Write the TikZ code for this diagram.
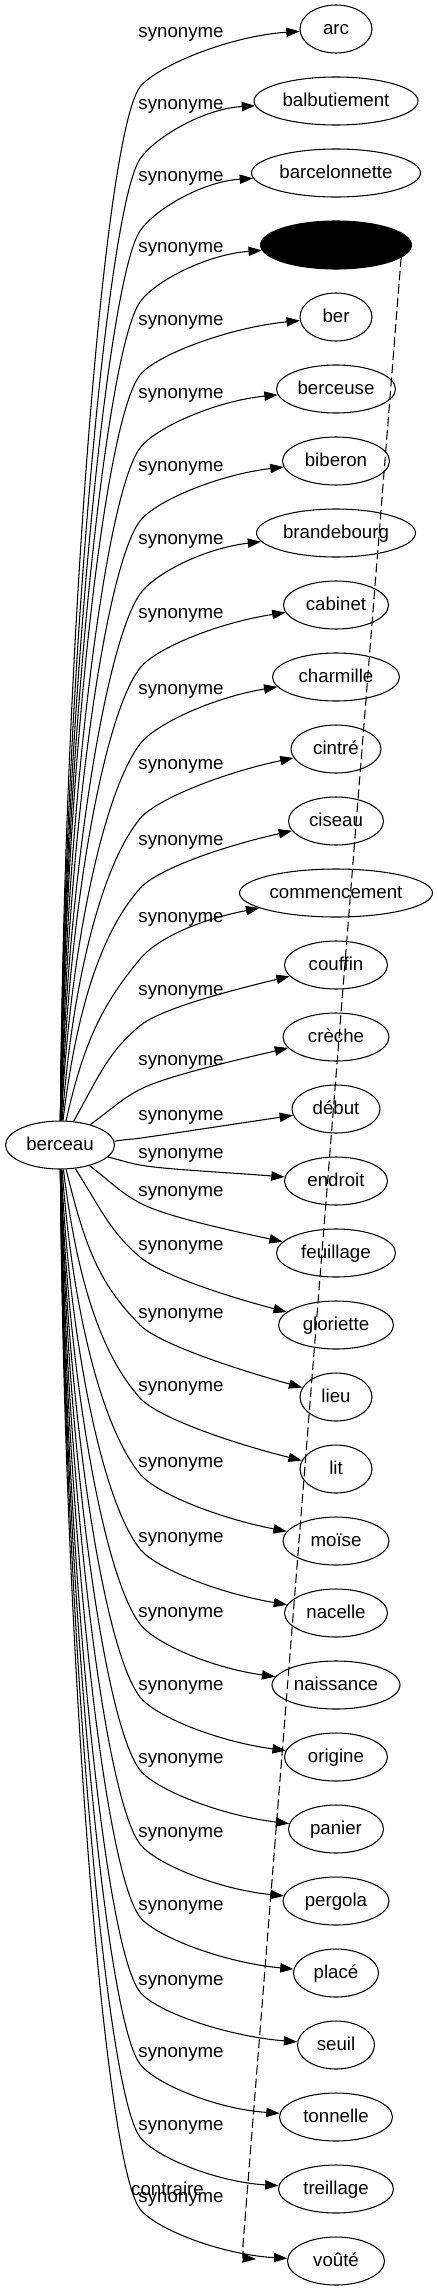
\documentclass[tikz,border=0pt]{standalone}
\usepackage{fontspec}
\setmainfont{Liberation Sans}
\usetikzlibrary{arrows.meta,shapes.geometric}
\tikzset{
  tnode/.style={draw, ellipse, line width=0.8pt, inner sep=0pt, minimum height=36pt,
    font=\fontsize{14}{16}\selectfont, text height=11pt, text depth=3pt},
  lbl/.style={inner sep=0pt, font=\fontsize{14}{16}\selectfont, text height=11pt, text depth=3pt},
  syn/.style={draw, line width=0.8pt, -{Triangle[length=10pt,width=7pt]}},
  contr/.style={draw, line width=0.8pt, dash pattern=on 7pt off 3pt, -{Triangle[length=10pt,width=7pt]}},
  plainfill/.style={},
  blackfill/.style={fill=black},
}
% #1 target name, #2 target y, #3 label y, #4 target width (px)
\newcommand{\synedge}[4]{%
  \pgfmathsetmacro{\egD}{1145-#2}%
  \pgfmathsetmacro{\egAD}{abs(\egD)}%
  \pgfmathsetmacro{\egwy}{(\egD>0) ? (#3+20+35*min(1,\egAD/400)) : (#3+12)}%
  \pgfmathsetmacro{\egdy}{1145-\egwy}%
  \pgfmathsetmacro{\eglam}{min(1,100/max(abs(\egdy),1))}%
  \pgfmathsetmacro{\egal}{atan2(\egdy,80*\eglam)}%
  \pgfmathsetmacro{\egrr}{54.5*24/sqrt((24*cos(\egal))^2+(54.5*sin(\egal))^2)}%
  \pgfmathsetmacro{\egsx}{60+\egrr*cos(\egal)}%
  \pgfmathsetmacro{\egsy}{1145-\egrr*sin(\egal)}%
  \pgfmathsetmacro{\egex}{336-#4/2}%
  \pgfmathsetmacro{\egdws}{veclen(140-\egsx,\egwy-\egsy)}%
  \pgfmathsetmacro{\eghz}{0.45*\egdws}%
  \pgfmathsetmacro{\egcax}{\egsx+\eghz*cos(\egal)}%
  \pgfmathsetmacro{\egcay}{\egsy-\eghz*sin(\egal)}%
  \pgfmathsetmacro{\egaone}{atan2(\egdy,80)}%
  \pgfmathsetmacro{\egatwo}{atan2(\egwy-#2,\egex-140)}%
  \pgfmathsetmacro{\egth}{(\egaone+\egatwo)/2}%
  \pgfmathsetmacro{\egho}{min(0.35*\egdws,60)}%
  \pgfmathsetmacro{\egcbx}{140-\egho*cos(\egth)}%
  \pgfmathsetmacro{\egcby}{\egwy+\egho*sin(\egth)}%
  \pgfmathsetmacro{\egccx}{140+25*cos(\egth)}%
  \pgfmathsetmacro{\egccy}{\egwy-25*sin(\egth)}%
  \pgfmathsetmacro{\egcdx}{\egex-0.45*(\egex-140)}%
  \pgfmathsetmacro{\egcdy}{#2+0.6*(\egwy-#2)*exp(-\egAD/700)}%
  \draw[syn] (berceau.\egal) .. controls (\egcax,\egcay) and (\egcbx,\egcby) .. (140,\egwy)
     .. controls (\egccx,\egccy) and (\egcdx,\egcdy) .. (#1);
}
\begin{document}
\begin{tikzpicture}[x=0.75pt,y=-0.75pt]
\useasboundingbox (0,0) rectangle (437,2291);
\node[tnode, minimum width=109*0.75pt] (berceau) at (60,1145) {berceau};
\foreach \nm/\tx/\i/\w/\ly/\st in {
  arc/arc/0/72/32/plainfill,
  balbutiement/balbutiement/1/164/104/plainfill,
  barcelonnette/barcelonnette/2/169/176/plainfill,
  masked//3/151/247/blackfill,
  ber/ber/4/72/320/plainfill,
  berceuse/berceuse/5/119/393/plainfill,
  biberon/biberon/6/107/466/plainfill,
  brandebourg/brandebourg/7/159/539/plainfill,
  cabinet/cabinet/8/105/613/plainfill,
  charmille/charmille/9/127/689/plainfill,
  cintre/cintré/10/90/764/plainfill,
  ciseau/ciseau/11/95/840/plainfill,
  commencement/commencement/12/193/917/plainfill,
  couffin/couffin/13/103/990/plainfill,
  creche/crèche/14/106/1060/plainfill,
  debut/début/15/88/1115/plainfill,
  endroit/endroit/16/103/1153/plainfill,
  feuillage/feuillage/17/119/1191/plainfill,
  gloriette/gloriette/18/115/1245/plainfill,
  lieu/lieu/19/72/1313/plainfill,
  lit/lit/20/72/1386/plainfill,
  moise/moïse/21/106/1462/plainfill,
  nacelle/nacelle/22/103/1537/plainfill,
  naissance/naissance/23/128/1612/plainfill,
  origine/origine/24/103/1685/plainfill,
  panier/panier/25/95/1758/plainfill,
  pergola/pergola/26/106/1832/plainfill,
  place/placé/27/85/1905/plainfill,
  seuil/seuil/28/77/1980/plainfill,
  tonnelle/tonnelle/29/113/2052/plainfill,
  treillage/treillage/30/115/2125/plainfill,
  voute/voûté/31/97/2197/plainfill}{
  \pgfmathsetmacro{\ty}{29+72*\i}
  \node[tnode, \st, minimum width=\w*0.75pt] (\nm) at (336,\ty) {\tx};
  \node[lbl] (lab\i) at (181,\ly) {synonyme};
  \synedge{\nm}{\ty}{\ly}{\w}
}
\coordinate (cend) at (256,2259);
\draw[contr] (masked.-11.5) -- (243,2245) .. controls (243,2258) .. (cend);
\node[lbl] (labc) at (167.5,2190) {contraire};
\end{tikzpicture}
\end{document}
